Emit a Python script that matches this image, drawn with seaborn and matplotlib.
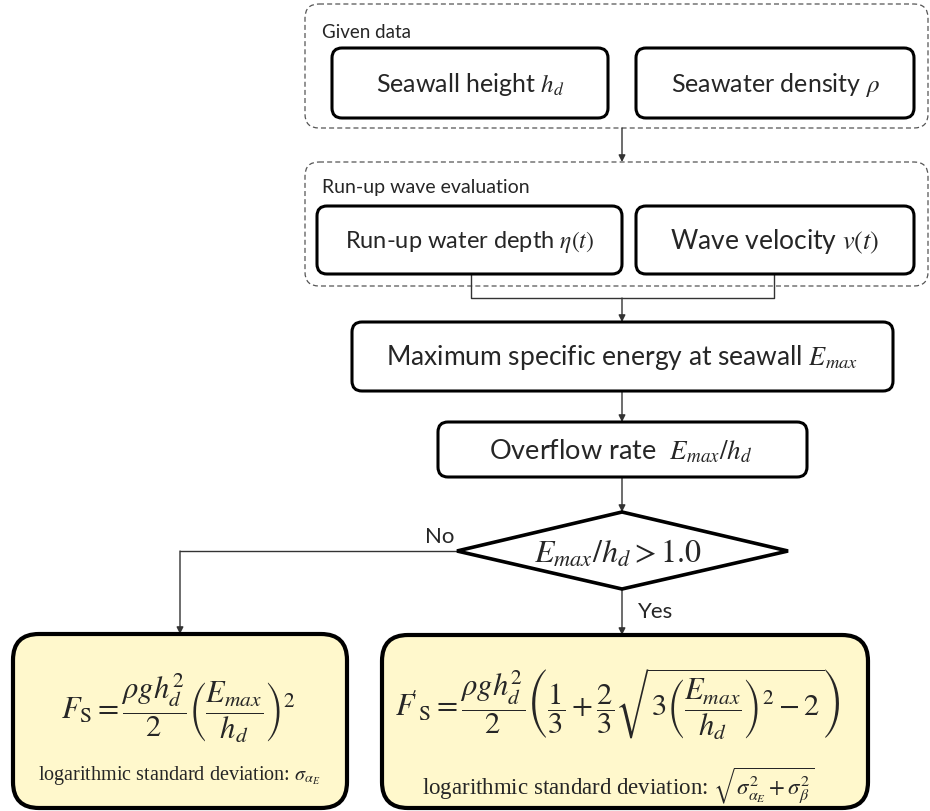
import matplotlib
matplotlib.use("Agg")
import matplotlib.pyplot as plt
from matplotlib.patches import FancyBboxPatch, Polygon
import seaborn as sns

# labels of the flowchart
group_titles = ["Given data", "Run-up wave evaluation"]
input_labels = [r"Seawall height $h_d$", r"Seawater density $\rho$"]
runup_labels = [r"Run-up water depth $\eta(t)$", r"Wave velocity $v(t)$"]
energy_label = r"Maximum specific energy at seawall $E_{max}$"
rate_label = r"Overflow rate  $E_{max}/h_d$"
decision_label = r"$E_{max}/h_d > 1.0$"
branch_labels = ["No", "Yes"]
formula_labels = [
    r"$F_{\mathrm{S}} = \dfrac{\rho g h_d^2}{2}\left(\dfrac{E_{max}}{h_d}\right)^2$",
    r"$F\!{}^{\prime}{}_{\mathrm{S}} = \dfrac{\rho g h_d^2}{2}\left(\dfrac{1}{3}+\dfrac{2}{3}\sqrt{3\left(\dfrac{E_{max}}{h_d}\right)^2-2}\right)$",
]
sigma_labels = [
    r"logarithmic standard deviation: $\sigma_{\alpha_E}$",
    r"logarithmic standard deviation: $\sqrt{\sigma_{\alpha_E}^2+\sigma_\beta^2}$",
]

sns.set_theme(style="white")
plt.rcParams["font.family"] = ["Lato", "DejaVu Sans"]
plt.rcParams["mathtext.fontset"] = "stix"

fig = plt.figure(figsize=(9.3, 8.12), dpi=100)
ax = fig.add_axes([0, 0, 1, 1])
ax.set_xlim(0, 930)
ax.set_ylim(812, 0)
ax.axis("off")

LINE = "#333333"


def box(x0, y0, x1, y1, r=10, lw=2.2, ls="-", ec="black", fc="white", z=2):
    p = FancyBboxPatch((x0, y0), x1 - x0, y1 - y0,
                       boxstyle=f"round,pad=0,rounding_size={r}",
                       lw=lw, ls=ls, ec=ec, fc=fc, zorder=z)
    ax.add_patch(p)


def arrow(x0, y0, x1, y1):
    ax.annotate("", xy=(x1, y1), xytext=(x0, y0),
                arrowprops=dict(arrowstyle="-|>", color=LINE, lw=1,
                                mutation_scale=10, shrinkA=0, shrinkB=0),
                zorder=1)


# dashed group frames
box(305, 5, 928, 129, r=14, lw=0.9, ls=(0, (4, 2.5)), ec="#555555", fc="none", z=1)
box(305, 163, 928, 287, r=14, lw=0.9, ls=(0, (4, 2.5)), ec="#555555", fc="none", z=1)
ax.text(322, 32, group_titles[0], fontsize=13.5, va="center", ha="left")
ax.text(322, 188, group_titles[1], fontsize=14, va="center", ha="left")

# input boxes
box(332, 49, 608, 119)
box(636, 49, 914, 119)
ax.text(470, 85, input_labels[0], fontsize=18, ha="center", va="center")
ax.text(775, 85, input_labels[1], fontsize=18, ha="center", va="center")

box(317, 207, 622, 275)
box(636, 207, 914, 275)
ax.text(470, 242, runup_labels[0], fontsize=17, ha="center", va="center")
ax.text(775, 242, runup_labels[1], fontsize=19, ha="center", va="center")

box(352, 323, 893, 392)
ax.text(622, 358, energy_label, fontsize=19, ha="center", va="center")

box(438, 423, 807, 478)
ax.text(621, 451, rate_label, fontsize=19.5, ha="center", va="center")

# decision diamond
ax.add_patch(Polygon([(622, 513), (788, 552), (622, 590), (457, 552)],
                     closed=True, lw=2.6, ec="black", fc="white", zorder=2))
ax.text(618, 553, decision_label, fontsize=23, ha="center", va="center")
ax.text(454, 537, branch_labels[0], fontsize=16, ha="right", va="center")
ax.text(638, 612, branch_labels[1], fontsize=16, ha="left", va="center")

# connectors
arrow(622, 129, 622, 163)
ax.plot([471, 471, 774, 774], [275, 299, 299, 275], color=LINE, lw=1, zorder=1)
arrow(622, 299, 622, 323)
arrow(622, 392, 622, 423)
arrow(622, 478, 622, 513)
ax.plot([457, 180], [552, 552], color=LINE, lw=1, zorder=1)
arrow(180, 552, 180, 635)
arrow(622, 590, 622, 636)

# result boxes
yellow = "#fff8cc"
box(13, 635, 347, 809, r=26, lw=3, fc=yellow)
box(382, 636, 868, 809, r=26, lw=3, fc=yellow)
ax.text(178, 708, formula_labels[0], fontsize=22, ha="center", va="center")
ax.text(618, 704, formula_labels[1], fontsize=22, ha="center", va="center")
ax.text(179, 776, sigma_labels[0], fontsize=14.5, ha="center", va="center",
        family="Liberation Serif")
ax.text(618, 786, sigma_labels[1], fontsize=16.5, ha="center", va="center",
        family="Liberation Serif")

fig.savefig("out.png", dpi=100)
